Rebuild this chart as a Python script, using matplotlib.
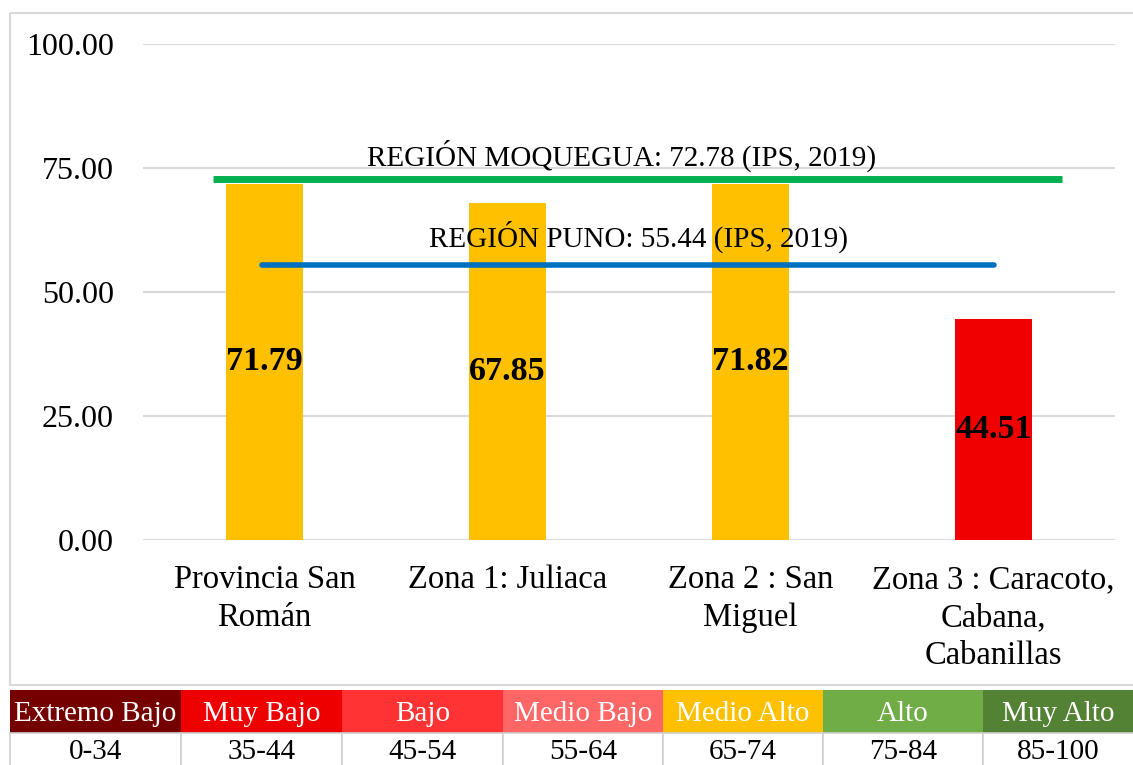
import matplotlib.pyplot as plt
from matplotlib.patches import Rectangle

plt.rcParams['font.family'] = ['Liberation Serif', 'DejaVu Serif']

# Chart data
categories = ["Provincia San\nRomán", "Zona 1: Juliaca", "Zona 2 : San\nMiguel",
              "Zona 3 : Caracoto,\nCabana,\nCabanillas"]
values = [71.79, 67.85, 71.82, 44.51]
bar_colors = ['#FFC000', '#FFC000', '#FFC000', '#F00000']

# Reference lines (value, label, colour, x extent in category units)
ref_values = [72.78, 55.44]
ref_labels = ["REGIÓN MOQUEGUA: 72.78 (IPS, 2019)", "REGIÓN PUNO: 55.44 (IPS, 2019)"]
ref_colors = ['#00B050', '#0070C0']
ref_spans = [(-0.21, 3.28), (-0.01, 3.0)]

# Scale table
levels = ["Extremo Bajo", "Muy Bajo", "Bajo", "Medio Bajo", "Medio Alto", "Alto", "Muy Alto"]
ranges = ["0-34", "35-44", "45-54", "55-64", "65-74", "75-84", "85-100"]
level_colors = ['#750000', '#EE0000', '#FF3333', '#FF6666', '#FFC000', '#70AD47', '#548235']

W, H = 1133, 765
fig = plt.figure(figsize=(W / 100, H / 100), dpi=100)

# outer chart frame
frame = fig.add_axes([0, 0, 1, 1])
frame.set_xlim(0, W)
frame.set_ylim(H, 0)
frame.axis('off')
frame.add_patch(Rectangle((10, 13), 1140, 672, fill=False, edgecolor='#D9D9D9', linewidth=1.5))

ax = fig.add_axes([143 / W, (H - 540) / H, 972 / W, 496 / H])
x = range(len(categories))
ax.bar(x, values, width=0.317, color=bar_colors, zorder=2)
for xi, v in zip(x, values):
    ax.text(xi, v / 2, f"{v:.2f}", ha='center', va='center', fontsize=24.5,
            fontweight='bold', zorder=4)

for v, lab, c, (x0, x1) in zip(ref_values, ref_labels, ref_colors, ref_spans):
    ax.plot([x0, x1], [v, v], color=c, linewidth=5 if c == '#00B050' else 4,
            solid_capstyle='round' if c == '#0070C0' else 'butt', zorder=3)
ax.text(1.47, ref_values[0] + 1.5, ref_labels[0], ha='center', va='bottom', fontsize=21, zorder=5)
ax.text(1.54, ref_values[1] + 2.4, ref_labels[1], ha='center', va='bottom', fontsize=21, zorder=5)

ax.set_xlim(-0.5, 3.5)
ax.set_ylim(0, 100)
ax.set_yticks([0, 25, 50, 75, 100])
ax.set_yticklabels([f"{t:.2f}" for t in [0, 25, 50, 75, 100]])
ax.set_xticks(list(x))
ax.set_xticklabels(categories, linespacing=1.3)
ax.tick_params(axis='y', length=0, labelsize=23, pad=21)
ax.tick_params(axis='x', length=0, labelsize=23.5, pad=18)
ax.grid(axis='y', color='#D9D9D9', linewidth=1.5, zorder=0)
ax.set_axisbelow(True)
for s in ax.spines.values():
    s.set_visible(False)

# scale table at the bottom
edges = [10, 181, 342, 503, 663, 823, 983, 1143]
for i, (lev, rng, col) in enumerate(zip(levels, ranges, level_colors)):
    x0, x1 = edges[i], edges[i + 1]
    frame.add_patch(Rectangle((x0, 690), x1 - x0, 43, facecolor=col, edgecolor='none'))
    frame.add_patch(Rectangle((x0, 733), x1 - x0, 40, facecolor='white', edgecolor='#CFCFCF',
                              linewidth=1.2))
    cx = (x0 + min(x1, W)) / 2
    frame.text(cx, 714, lev, ha='center', va='center', color='white', fontsize=21)
    frame.text(cx, 752, rng, ha='center', va='center', color='black', fontsize=21)

fig.savefig('out.png', dpi=100)
